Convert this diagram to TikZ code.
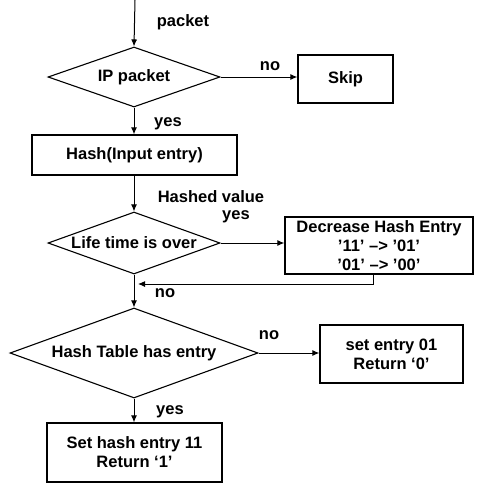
\documentclass[tikz,border=0pt]{standalone}
\usepackage{fontspec}
\setmainfont{Liberation Sans}
\usetikzlibrary{shapes.geometric,arrows.meta}
\begin{document}
\begin{tikzpicture}[x=1pt,y=-1pt,
  every node/.style={font=\bfseries\fontsize{16.5}{19}\selectfont, inner sep=0pt},
  box/.style={draw, line width=1.3pt, rectangle, align=center},
  dia/.style={draw, line width=1.1pt, diamond},
  txt/.style={align=center},
  lbl/.style={font=\bfseries\fontsize{16.5}{18}\selectfont},
  conn/.style={line width=1pt, -{Latex[length=7pt,width=6pt]}}]
\useasboundingbox (0,0) rectangle (478,491);
% nodes
\coordinate (in) at (135,0);
\node[dia, minimum width=172pt, minimum height=60pt] (d1) at (134,77) {};
\node[txt] at (d1) {IP packet};
\node[box, minimum width=95pt, minimum height=48pt] (skip) at (345.5,79) {Skip};
\node[box, minimum width=205pt, minimum height=40pt] (hash) at (134.5,155) {Hash(Input entry)};
\node[dia, minimum width=172pt, minimum height=62pt] (d2) at (134,243) {};
\node[txt] at (d2) {Life time is over};
\node[box, minimum width=188pt, minimum height=57pt] (dec) at (379,245.5) {Decrease Hash Entry\\'11' --> '01'\\'01' --> '00'};
\node[dia, minimum width=248pt, minimum height=90pt] (d3) at (134,353) {};
\node[txt] at (d3) {Hash Table has entry};
\node[box, minimum width=143pt, minimum height=58pt] (set0) at (391.5,354) {set entry 01\\Return `0'};
\node[box, minimum width=175pt, minimum height=59pt] (set1) at (134.5,452.5) {Set hash entry 11\\Return `1'};
\coordinate (fbtop) at (373,274);
\coordinate (fb) at (138,284);
% connectors
\draw[conn] (in) -- (d1.north);
\draw[conn] (d1.east) -- (skip.west |- d1.east);
\draw[conn] (d1.south) -- (hash.north -| d1.south);
\draw[conn] (hash.south -| d2.north) -- (d2.north);
\draw[conn] (d2.east) -- (dec.west |- d2.east);
\draw[conn] (fbtop) |- (fb);
\draw[conn] (d2.south) -- (d3.north);
\draw[conn] (d3.east) -- (set0.west |- d3.east);
\draw[conn] (d3.south) -- (set1.north -| d3.south);
% labels
\node[lbl] at (183,22) {packet};
\node[lbl] at (270,66) {no};
\node[lbl] at (168,124) {yes};
\node[lbl] at (211,197) {Hashed value};
\node[lbl] at (236,217) {yes};
\node[lbl] at (165,293) {no};
\node[lbl] at (269,335) {no};
\node[lbl] at (170,412) {yes};
\end{tikzpicture}
\end{document}
